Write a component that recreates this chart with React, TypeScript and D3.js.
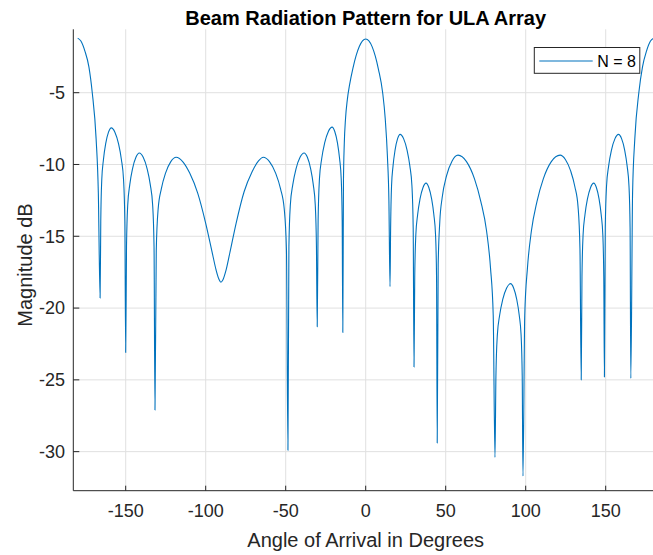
import React from "react";
import * as d3 from "d3";

// Angle of arrival (deg) vs magnitude (dB)
const pattern: [number, number][] = [
  [-180, -1.2], [-178, -1.4], [-175.5, -2.1], [-173, -3.2], [-170.9, -5.0], [-168.5, -8.2], [-167.1, -12], [-166, -19.3],
  [-165.58, -13.95], [-164.95, -11.05], [-163.9, -9.65], [-162.5, -8.55], [-160.75, -7.75], [-159, -7.45],
  [-156.75, -7.75], [-154.5, -8.55], [-152.7, -9.65], [-151.35, -11.05], [-150.54, -13.95], [-150, -23.1],
  [-149.49, -15.7], [-148.72, -12.8], [-147.45, -11.4], [-145.75, -10.3], [-143.6, -9.5], [-141.5, -9.2],
  [-139.05, -9.5], [-136.6, -10.3], [-134.64, -11.4], [-133.17, -12.8], [-132.29, -15.7], [-131.7, -27.1],
  [-130.9, -16], [-129.72, -13.1], [-127.74, -11.7], [-125.1, -10.6], [-121.8, -9.8], [-118.5, -9.5],
  [-114, -9.85], [-110, -10.6], [-105, -12.0], [-100, -14.1], [-96, -16.1], [-93.5, -17.35], [-91.7, -18.0],
  [-90.5, -18.2], [-89.3, -18.05], [-87.5, -17.45], [-85, -16.2], [-81, -14.1], [-76, -11.9], [-71, -10.5],
  [-67, -9.75], [-64, -9.5],
  [-60.15, -9.8], [-56.3, -10.6], [-53.22, -11.7], [-50.91, -13.1], [-49.52, -16], [-48.6, -29.9],
  [-47.99, -15.7], [-47.09, -12.8], [-45.57, -11.4], [-43.55, -10.3], [-41.03, -9.5], [-38.5, -9.2],
  [-36.45, -9.5], [-34.4, -10.3], [-32.76, -11.4], [-31.53, -12.8], [-30.79, -15.7], [-30.3, -21.3],
  [-29.74, -13.9], [-28.9, -11.0], [-27.51, -9.6], [-25.65, -8.5], [-23.33, -7.7], [-21, -7.4],
  [-19.33, -7.7], [-17.65, -8.5], [-16.31, -9.6], [-15.3, -11.0], [-14.7, -13.9], [-14.3, -21.7],
  [-13.9, -11.2], [-13.4, -8.6], [-12.6, -6.8], [-11.5, -5.5], [-10, -4.4], [-8, -3.3], [-6, -2.42],
  [-4, -1.78], [-2, -1.39], [0, -1.26],
  [2, -1.39], [4, -1.79], [6, -2.46], [8, -3.39], [10.6, -5.0], [12.2, -6.8], [13.6, -9.5], [14.5, -12.5],
  [15.2, -18.5],
  [15.58, -14.4], [16.15, -11.5], [17.09, -10.1], [18.35, -9.0], [19.93, -8.2], [21.5, -7.9],
  [23.68, -8.2], [25.85, -9.0], [27.59, -10.1], [28.9, -11.5], [29.68, -14.4], [30.2, -24.1],
  [30.65, -17.8], [31.33, -14.9], [32.45, -13.5], [33.95, -12.4], [35.83, -11.6], [37.7, -11.3],
  [39.45, -11.6], [41.2, -12.4], [42.6, -13.5], [43.65, -14.9], [44.28, -17.8], [44.7, -29.4],
  [45.3, -17], [46.3, -14], [47.8, -12.3], [50.5, -10.8], [54, -9.75], [57.7, -9.35],
  [63, -9.8], [68, -11.0], [72, -12.6], [75.5, -14.6], [78, -17.2], [79.7, -20.5], [80.8, -30.4],
  [81.38, -24.8], [82.26, -21.9], [83.71, -20.5], [85.65, -19.4], [88.08, -18.6], [90.5, -18.3],
  [92.45, -18.6], [94.4, -19.4], [95.96, -20.5], [97.13, -21.9], [97.83, -24.8], [98.3, -31.7],
  [99.4, -20.5], [101.1, -17.2], [103.6, -14.6], [107, -12.6], [111, -11.0], [116, -9.8], [121.5, -9.35],
  [124.8, -9.65], [128.1, -10.45], [130.74, -11.55], [132.72, -12.95], [133.91, -15.85], [134.7, -25],
  [135.17, -17.8], [135.87, -14.9], [137.04, -13.5], [138.6, -12.4], [140.55, -11.6], [142.5, -11.3],
  [144.18, -11.6], [145.85, -12.4], [147.19, -13.5], [148.2, -14.9], [148.8, -17.8], [149.2, -24.8],
  [149.73, -14.4], [150.52, -11.5], [151.84, -10.1], [153.6, -9.0], [155.8, -8.2], [158, -7.9],
  [159.93, -8.2], [161.85, -9.0], [163.39, -10.1], [164.55, -11.5], [165.24, -14.4], [165.7, -24.9],
  [166.8, -12], [168.2, -8.2], [170.7, -5.0], [173, -3.2], [175.5, -2.1], [178, -1.4], [180, -1.2],
];

const xTicks = [-150, -100, -50, 0, 50, 100, 150];
const yTicks = [-30, -25, -20, -15, -10, -5];
const xDomain: [number, number] = [-182.75, 182.75];
const yDomain: [number, number] = [-32.72, -0.585];

const title = "Beam Radiation Pattern for ULA Array";
const xLabel = "Angle of Arrival in Degrees";
const yLabel = "Magnitude dB";
const legendLabel = "N = 8";

const W = 653;
const H = 555;
const left = 73.3;
const right = 658.1;
const top = 29.3;
const bottom = 490.7;

const FONT = "'Liberation Sans', Arial, Helvetica, sans-serif";
const AX = "#262626";
const GRID = "#e0e0e0";
const BLUE = "#0072BD";

export default function App() {
  const x = d3.scaleLinear().domain(xDomain).range([left, right]);
  const y = d3.scaleLinear().domain(yDomain).range([bottom, top]);
  const line = d3
    .line<[number, number]>()
    .x((d) => x(d[0]))
    .y((d) => y(d[1]))
    .curve(d3.curveMonotoneX);

  return (
    <svg width={W} height={H} style={{ display: "block", position: "absolute", left: 0, top: 0, background: "#fff" }}>
      <rect x={0} y={0} width={W} height={H} fill="#fff" />
      {/* grid */}
      {xTicks.map((t) => (
        <line key={"gx" + t} x1={x(t)} x2={x(t)} y1={top} y2={bottom} stroke={GRID} strokeWidth={1} />
      ))}
      {yTicks.map((t) => (
        <line key={"gy" + t} x1={left} x2={right} y1={y(t)} y2={y(t)} stroke={GRID} strokeWidth={1} />
      ))}
      {/* data */}
      <path d={line(pattern) || ""} fill="none" stroke={BLUE} strokeWidth={1.1} strokeLinejoin="round" />
      {/* axes */}
      <line x1={left} x2={left} y1={top} y2={bottom} stroke={AX} strokeWidth={1} />
      <line x1={left} x2={right} y1={bottom} y2={bottom} stroke={AX} strokeWidth={1} />
      {xTicks.map((t) => (
        <g key={"tx" + t}>
          <line x1={x(t)} x2={x(t)} y1={bottom} y2={bottom - 5} stroke={AX} strokeWidth={1} />
          <text x={x(t)} y={517} textAnchor="middle" fontFamily={FONT} fontSize={18} fill={AX}>
            {t}
          </text>
        </g>
      ))}
      {yTicks.map((t) => (
        <g key={"ty" + t}>
          <line x1={left} x2={left + 6} y1={y(t)} y2={y(t)} stroke={AX} strokeWidth={1} />
          <text x={65} y={y(t)} dy="0.35em" textAnchor="end" fontFamily={FONT} fontSize={18} fill={AX}>
            {t}
          </text>
        </g>
      ))}
      {/* labels */}
      <text x={(left + right) / 2} y={24.5} textAnchor="middle" fontFamily={FONT} fontSize={20} fontWeight="bold" fill="#000">
        {title}
      </text>
      <text x={(left + right) / 2} y={547} textAnchor="middle" fontFamily={FONT} fontSize={20} fill={AX}>
        {xLabel}
      </text>
      <text
        transform={`translate(32, ${(top + bottom) / 2 + 5}) rotate(-90)`}
        textAnchor="middle"
        fontFamily={FONT}
        fontSize={20}
        fill={AX}
      >
        {yLabel}
      </text>
      {/* legend */}
      <rect x={534.3} y={47.5} width={105.5} height={25.8} fill="#fff" stroke={AX} strokeWidth={1} />
      <line x1={539.3} x2={592.7} y1={61} y2={61} stroke={BLUE} strokeWidth={1.1} />
      <text x={597.3} y={61} dy="0.36em" fontFamily={FONT} fontSize={16} fill="#000">
        {legendLabel}
      </text>
    </svg>
  );
}
